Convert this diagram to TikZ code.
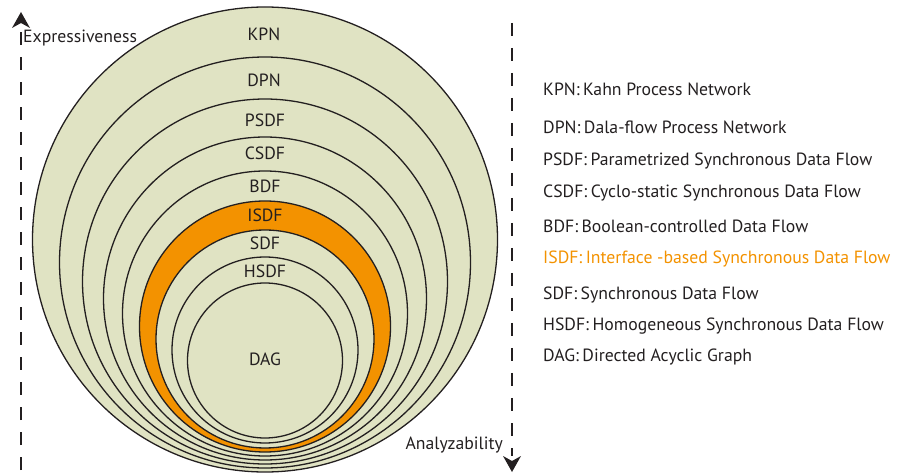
\documentclass[tikz,border=0pt]{standalone}
\usepackage{fontspec}
\setmainfont{PT Sans}
\usetikzlibrary{arrows.meta}
\definecolor{olive}{HTML}{E0E3C3}
\definecolor{orng}{HTML}{F39200}
\definecolor{txt}{HTML}{231F20}
\tikzset{
  ring/.style={draw=txt, line width=1.3pt, fill=olive},
  lbl/.style={text=txt, font=\fontsize{17.7}{20}\selectfont, inner sep=0pt},
  leg/.style={text=txt, font=\fontsize{17.7}{20}\selectfont, inner sep=0pt, anchor=west},
  axis/.style={draw=txt, line width=2.2pt, dash pattern=on 13pt off 12pt}
}
\begin{document}
\begin{tikzpicture}[x=1pt,y=-1pt]
\useasboundingbox (0,0) rectangle (898,473);
% circles
\draw[ring] (265,239.5) circle (232.5);
\draw[ring] (265,262.5) circle (205.5);
\draw[ring] (265,281.5) circle (182.5);
\draw[ring] (265,298.5) circle (161.5);
\draw[ring] (265,313.5) circle (142.5);
\draw[ring,fill=orng] (265,326.5) circle (125.5);
\draw[ring] (265,339) circle (109);
\draw[ring] (265,350) circle (93);
\draw[ring] (265,360.5) circle (77.5);
% circle labels
\node[lbl] (kpn) at (264,34) {KPN};
\node[lbl] (dpn) at (264,80) {DPN};
\node[lbl] (psdf) at (265,120) {PSDF};
\node[lbl] (csdf) at (265,153) {CSDF};
\node[lbl] (bdf) at (265,186) {BDF};
\node[lbl] (isdf) at (265,215) {ISDF};
\node[lbl] (sdf) at (265,243) {SDF};
\node[lbl] (hsdf) at (265,271) {HSDF};
\node[lbl] (dag) at (265,359) {DAG};
% axes
\coordinate (l0) at (21,470);
\coordinate (l1) at (21,12);
\coordinate (r0) at (512,23);
\coordinate (r1) at (512,472);
\draw[axis] (l0) -- (21,28);
\draw[axis] (r0) -- (512,456);
\fill[txt] (l1) -- (30,28) -- (21,23) -- (12,28) -- cycle;
\fill[txt] (r1) -- (503,456) -- (512,461) -- (521,456) -- cycle;
\node[lbl, anchor=west] (expr) at (23,38) {Expressiveness};
\node[lbl, anchor=east] (anal) at (503,445) {Analyzability};
% legend
\node[leg] (k) at (543,89) {KPN:\hspace{3.5pt}Kahn Process Network};
\node[leg] (d) at (543,127) {DPN:\hspace{3.5pt}Dala-flow Process Network};
\node[leg] (p) at (543,161) {PSDF:\hspace{3.5pt}Parametrized Synchronous Data Flow};
\node[leg] (c) at (543,193) {CSDF:\hspace{3.5pt}Cyclo-static Synchronous Data Flow};
\node[leg] (b) at (543,226) {BDF:\hspace{3.5pt}Boolean-controlled Data Flow};
\node[leg, text=orng] (i) at (543,259) {ISDF:\hspace{3.5pt}Interface -based Synchronous Data Flow};
\node[leg] (s) at (543,295) {SDF:\hspace{3.5pt}Synchronous Data Flow};
\node[leg] (h) at (543,326) {HSDF:\hspace{3.5pt}Homogeneous Synchronous Data Flow};
\node[leg] (g) at (543,357) {DAG:\hspace{3.5pt}Directed Acyclic Graph};
\end{tikzpicture}
\end{document}
